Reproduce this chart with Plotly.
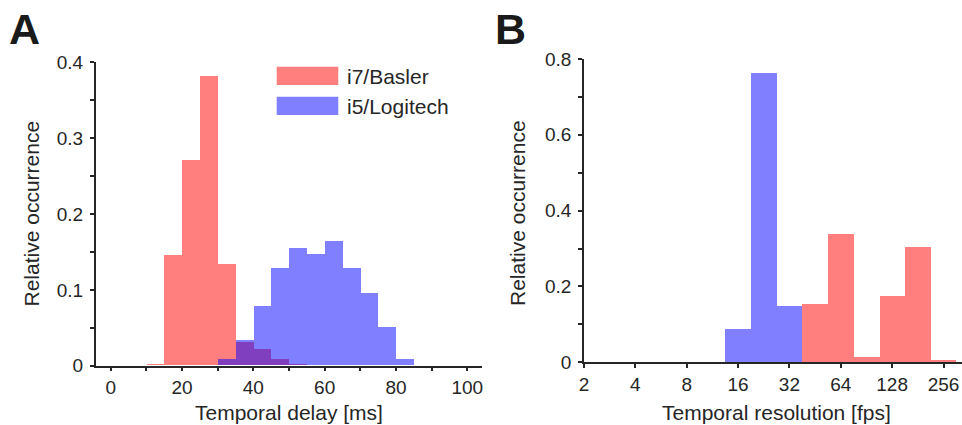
import numpy as np
import plotly.graph_objects as go

W, H = 962, 425

# ---------------- data ----------------
# Panel A: temporal delay histograms (5 ms bins), left bin edges
delay_bins_basler = [10, 15, 20, 25, 30, 35, 40, 45, 50]
delay_vals_basler = [0.002, 0.146, 0.271, 0.382, 0.134, 0.031, 0.022, 0.008, 0.002]
delay_bins_logitech = [30, 35, 40, 45, 50, 55, 60, 65, 70, 75, 80]
delay_vals_logitech = [0.008, 0.034, 0.078, 0.129, 0.155, 0.147, 0.164, 0.129, 0.095, 0.051, 0.008]
delay_bin_width = 5

# Panel B: temporal resolution histograms (half-octave bins), bin edges in fps
fps_edges_logitech = [13.5, 19, 27, 38]
fps_vals_logitech = [0.087, 0.763, 0.149]
fps_edges_basler = [38, 54, 76, 108, 153, 216, 305]
fps_vals_basler = [0.154, 0.338, 0.013, 0.176, 0.305, 0.007]
fps_ticks = [2, 4, 8, 16, 32, 64, 128, 256]

labels = ["i7/Basler", "i5/Logitech"]
red = "rgba(255,0,0,0.5)"
blue = "rgba(0,0,255,0.5)"

FONT = "Liberation Sans, Arial, sans-serif"
DARK = "#262626"

def px_x(p):
    return p / W

def px_y(p):
    return 1 - p / H

fig = go.Figure()

# Panel A bars
fig.add_trace(go.Bar(
    x=np.array(delay_bins_basler) + delay_bin_width / 2, y=delay_vals_basler,
    width=delay_bin_width, marker=dict(color=red, line=dict(width=0)),
    name=labels[0], xaxis="x", yaxis="y"))
fig.add_trace(go.Bar(
    x=np.array(delay_bins_logitech) + delay_bin_width / 2, y=delay_vals_logitech,
    width=delay_bin_width, marker=dict(color=blue, line=dict(width=0)),
    name=labels[1], xaxis="x", yaxis="y"))

# Panel B bars (log2 axis)
eb = np.log2(fps_edges_basler)
el = np.log2(fps_edges_logitech)
fig.add_trace(go.Bar(
    x=(eb[:-1] + eb[1:]) / 2, y=fps_vals_basler, width=np.diff(eb),
    marker=dict(color=red, line=dict(width=0)), name=labels[0],
    xaxis="x2", yaxis="y2"))
fig.add_trace(go.Bar(
    x=(el[:-1] + el[1:]) / 2, y=fps_vals_logitech, width=np.diff(el),
    marker=dict(color=blue, line=dict(width=0)), name=labels[1],
    xaxis="x2", yaxis="y2"))

axis_common = dict(
    showline=True, linecolor=DARK, linewidth=1.5, ticks="outside",
    ticklen=4, tickwidth=1.5, tickcolor=DARK, showgrid=False, zeroline=False,
    tickfont=dict(family=FONT, size=19, color=DARK), mirror=False,
    automargin=False,
)
minor_common = dict(ticks="outside", ticklen=4, tickwidth=1.5, tickcolor=DARK)

fig.update_layout(
    template="none",
    width=W, height=H, margin=dict(l=0, r=0, t=0, b=0),
    paper_bgcolor="white", plot_bgcolor="white",
    barmode="overlay", bargap=0, showlegend=False,
    xaxis=dict(domain=[px_x(95.7), px_x(482.3)], range=[-4.2, 104.2],
               tickmode="array", tickvals=[0, 20, 40, 60, 80, 100],
               minor=dict(tickvals=[10, 30, 50, 70, 90], **minor_common),
               anchor="y", **axis_common),
    yaxis=dict(domain=[px_y(365.7), px_y(62.3)], range=[0, 0.4],
               tickmode="array", tickvals=[0, 0.1, 0.2, 0.3, 0.4],
               ticktext=["0", "0.1", "0.2", "0.3", "0.4"],
               minor=dict(tickvals=[0.05, 0.15, 0.25, 0.35], **minor_common),
               ticklabelstandoff=3, anchor="x", **axis_common),
    xaxis2=dict(domain=[px_x(584), 1.0], range=[1, 8.36],
                tickmode="array", tickvals=np.log2(fps_ticks),
                ticktext=[str(t) for t in fps_ticks],
                anchor="y2", **axis_common),
    yaxis2=dict(domain=[px_y(362.3), px_y(59)], range=[0, 0.8],
                tickmode="array", tickvals=[0, 0.2, 0.4, 0.6, 0.8],
                ticktext=["0", "0.2", "0.4", "0.6", "0.8"],
                minor=dict(tickvals=[0.1, 0.3, 0.5, 0.7], **minor_common),
                ticklabelstandoff=3, anchor="x2", **axis_common),
)

annotations = []
title_font = dict(family=FONT, size=21, color=DARK)
# axis titles
annotations.append(dict(text="Temporal delay [ms]", x=px_x(289), y=px_y(412),
                        xref="paper", yref="paper", showarrow=False,
                        xanchor="center", yanchor="middle", font=title_font))
annotations.append(dict(text="Temporal resolution [fps]", x=px_x(776.5), y=px_y(412),
                        xref="paper", yref="paper", showarrow=False,
                        xanchor="center", yanchor="middle", font=title_font))
annotations.append(dict(text="Relative occurrence", x=px_x(30.5), y=px_y(214),
                        xref="paper", yref="paper", showarrow=False, textangle=-90,
                        xanchor="center", yanchor="middle", font=title_font))
annotations.append(dict(text="Relative occurrence", x=px_x(517), y=px_y(213),
                        xref="paper", yref="paper", showarrow=False, textangle=-90,
                        xanchor="center", yanchor="middle", font=title_font))
# panel letters
letter_font = dict(family=FONT, size=43, color="#1a1a1a")
annotations.append(dict(text="<b>A</b>", x=px_x(7), y=px_y(29),
                        xref="paper", yref="paper", showarrow=False,
                        xanchor="left", yanchor="middle", font=letter_font))
annotations.append(dict(text="<b>B</b>", x=px_x(493), y=px_y(29),
                        xref="paper", yref="paper", showarrow=False,
                        xanchor="left", yanchor="middle", font=letter_font))

# manual legend
shapes = []
for i, (lab, col) in enumerate(zip(labels, [red, blue])):
    y0 = 66.7 + i * 30
    shapes.append(dict(type="rect", xref="paper", yref="paper",
                       x0=px_x(276.7), x1=px_x(338.3), y0=px_y(y0), y1=px_y(y0 + 18.3),
                       fillcolor=col, line=dict(width=0)))
    annotations.append(dict(text=lab, x=px_x(345), y=px_y(y0 + 9.5),
                            xref="paper", yref="paper", showarrow=False,
                            xanchor="left", yanchor="middle", font=title_font))

fig.update_layout(annotations=annotations, shapes=shapes)
fig.write_html("out.html", config={"displayModeBar": False},
               post_script="document.body.style.margin='0';")
